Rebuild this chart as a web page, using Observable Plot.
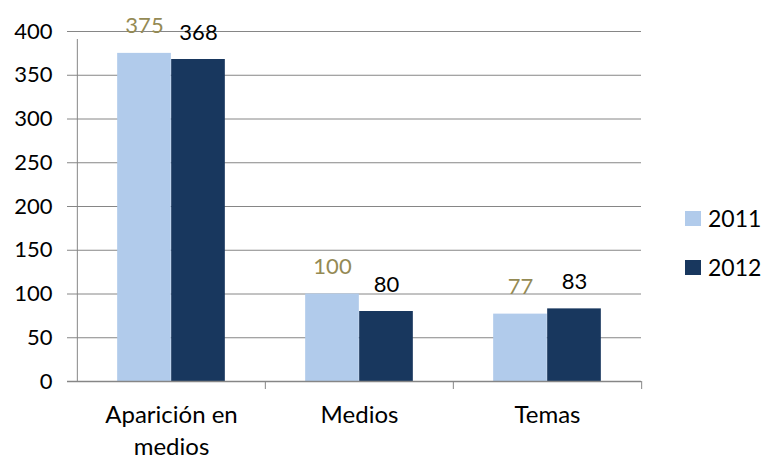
<!DOCTYPE html>
<html>
<head>
<meta charset="utf-8">
<script src="https://cdn.jsdelivr.net/npm/d3@7"></script>
<script src="https://cdn.jsdelivr.net/npm/@observablehq/plot@0.6"></script>
<style>
  body { margin: 0; background: #fff; font-family: Lato, sans-serif; }
  #wrap { position: relative; width: 764px; height: 459px; }
  .legend { position: absolute; left: 685px; font-size: 23px; color: #000; display: flex; align-items: center; line-height: 1; }
  .legend span.sw { display: inline-block; width: 16px; height: 15px; margin-right: 7px; }
</style>
</head>
<body>
<div id="wrap"></div>
<script>
const categories = ["Aparición en\nmedios", "Medios", "Temas"];
const years = ["2011", "2012"];
const values2011 = [375, 100, 77];
const values2012 = [368, 80, 83];
const yTicks = [0, 50, 100, 150, 200, 250, 300, 350, 400];
const barColors = ["#B1CBEB", "#18375E"];
const labelColors = ["#948A54", "#000000"];

const W = 764, H = 459, mL = 76, mR = 123, mT = 31, mB = 78;
const bw = (W - mL - mR) / categories.length;
const barW = 54;
const grid = "#868686";

const d11 = categories.map((c, i) => ({cat: c, v: values2011[i]}));
const d12 = categories.map((c, i) => ({cat: c, v: values2012[i]}));

const plot = Plot.plot({
  width: W, height: H,
  marginLeft: mL, marginRight: mR, marginTop: mT, marginBottom: mB,
  style: {fontFamily: "Lato, sans-serif", fontSize: "22px", background: "#fff", color: "#000"},
  x: {domain: categories, padding: 0, label: null},
  y: {domain: [0, 400], label: null},
  marks: [
    Plot.ruleY(yTicks, {stroke: grid, strokeWidth: 1, insetLeft: -9}),
    Plot.barY(d11, {x: "cat", y: "v", fill: barColors[0], insetLeft: bw / 2 - barW, insetRight: bw / 2}),
    Plot.barY(d12, {x: "cat", y: "v", fill: barColors[1], insetLeft: bw / 2, insetRight: bw / 2 - barW}),
    Plot.ruleY([0], {stroke: grid, strokeWidth: 1.5, insetLeft: -9}),
    // y axis line
    Plot.ruleX([categories[0]], {x: d => d, dx: -bw / 2, y1: 0, y2: 400, stroke: grid, insetBottom: -8}),
    // category boundary ticks
    Plot.ruleX(categories.slice(1), {x: d => d, dx: -bw / 2, y1: 0, y2: 0, stroke: grid, insetBottom: -8}),
    Plot.ruleX([categories[categories.length - 1]], {x: d => d, dx: bw / 2, y1: 0, y2: 0, stroke: grid, insetBottom: -8}),
    Plot.text(d11, {x: "cat", y: "v", text: d => String(d.v), dx: -barW / 2, dy: -27, fill: labelColors[0], fontSize: 22}),
    Plot.text(d12, {x: "cat", y: "v", text: d => String(d.v), dx: barW / 2, dy: -27, fill: labelColors[1], fontSize: 22}),
    Plot.axisY(yTicks, {tickSize: 0, tickPadding: 24, fontSize: 22, fill: "#000"}),
    Plot.axisX({tickSize: 0, tickPadding: 19, fontSize: 24, lineHeight: 1.33, fill: "#000"})
  ]
});
const wrap = document.getElementById("wrap");
wrap.appendChild(plot);

const legendTops = [207, 256];
years.forEach((yr, i) => {
  const div = document.createElement("div");
  div.className = "legend";
  div.style.top = legendTops[i] + "px";
  const sw = document.createElement("span");
  sw.className = "sw";
  sw.style.background = barColors[i];
  div.appendChild(sw);
  div.appendChild(document.createTextNode(yr));
  wrap.appendChild(div);
});
</script>
</body>
</html>
